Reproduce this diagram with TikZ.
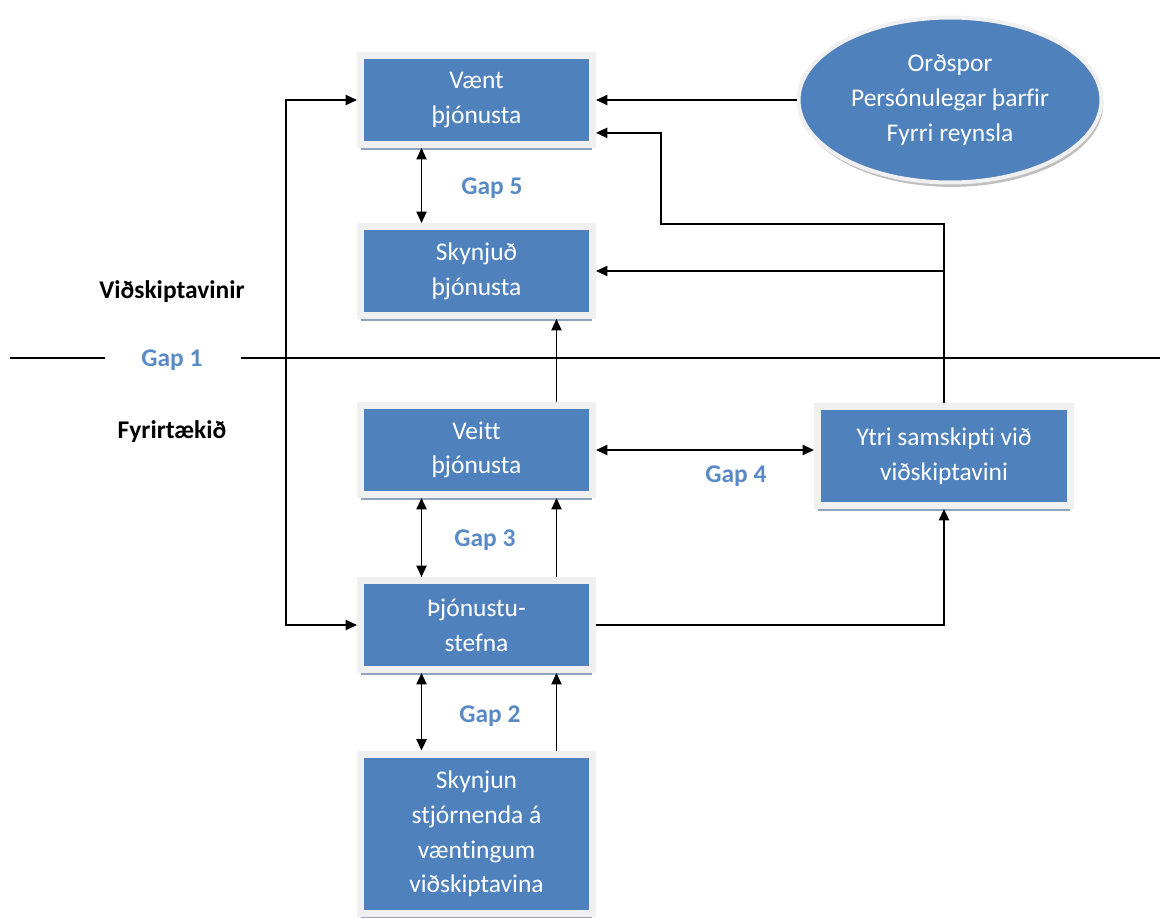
\documentclass[tikz,border=0pt]{standalone}
\usepackage{fontspec}
\setmainfont{Carlito}[Ligatures=NoCommon]
\usepackage{tikz}
\usetikzlibrary{arrows.meta,shapes.geometric,shadows}
\definecolor{boxblue}{HTML}{4F81BD}
\definecolor{framegray}{HTML}{F0F0F0}
\definecolor{shadowblue}{HTML}{8FA3BC}
\definecolor{gapblue}{HTML}{5A8AC6}
\newcommand{\txtsize}{\fontsize{14.5}{19.8}\selectfont}

\begin{document}
\begin{tikzpicture}[x=0.02cm,y=-0.02cm,line width=0.9pt,
  >={Triangle[length=6.5pt,width=5.8pt]},
  box/.style={draw=framegray,line width=0.14cm,fill=boxblue,text=white,
    align=center,minimum width=4.64cm,minimum height=1.78cm,font=\txtsize,
    drop shadow={shadow xshift=0pt,shadow yshift=-3.1pt,fill=shadowblue,opacity=1}},
  oval/.style={ellipse,draw=framegray,line width=0.08cm,fill=boxblue,text=white,
    align=center,minimum width=6.06cm,minimum height=3.3cm,font=\txtsize,
    drop shadow={shadow xshift=1pt,shadow yshift=-2.5pt,fill=black!25,opacity=1}},
  side/.style={font=\txtsize\bfseries},
  gap/.style={font=\txtsize\bfseries,text=gapblue}]
  \useasboundingbox (0,0) rectangle (1160,917);

  % boxes
  \node[box] (vaent) at (476.5,100) {Vænt\\þjónusta};
  \node[box] (skynj) at (476.5,271) {Skynjuð\\þjónusta};
  \node[box] (veitt) at (476.5,450) {Veitt\\þjónusta};
  \node[box] (stefna) at (476.5,625) {Þjónustu-\\stefna};
  \node[box,minimum height=3.2cm] (skynjun) at (476.5,834)
    {Skynjun\\stjórnenda á\\væntingum\\viðskiptavina};
  \node[box,minimum width=5.06cm,minimum height=1.98cm] (ytri) at (944,456)
    {Ytri samskipti við\\viðskiptavini};
  \node[oval] (ell) at (950,100) {Orðspor\\Persónulegar þarfir\\Fyrri reynsla};

  % side labels and gaps
  \node[side] (vidsk) at (172,292) {Viðskiptavinir};
  \node[side] (fyrir) at (172,432) {Fyrirtækið};
  \foreach \n/\x/\y in {1/172/360,2/490/716,3/485/540,4/736/476,5/492/188}
    \node[gap] (gap\n) at (\x,\y) {Gap \n};
  \draw (10,358) -- (105,358) (241,358) -- (1160,358);

  % connectors
  \coordinate (bend) at (661,224);
  \coordinate (lft) at (286,360);
  \draw[->] (ell.west |- vaent.east) -- (vaent.east);
  \draw[->] (ytri.north) |- (bend) |- ([yshift=-18.7pt]vaent.east);
  \draw[->] (ytri.north |- skynj.east) -- (skynj.east);
  \draw[<->] (veitt.east) -- (veitt.east -| ytri.west);
  \draw[->] (stefna.east) -| (ytri.south);
  \draw[<->] (vaent.west) -| (lft) |- (stefna.west);
  \foreach \a/\b in {vaent/skynj,veitt/stefna,stefna/skynjun}
    \draw[<->] ([xshift=-1.1cm]\a.south) -- ([xshift=-1.1cm]\b.north);
  \foreach \a/\b in {skynjun/stefna,stefna/veitt,veitt/skynj}
    \draw[->] ([xshift=1.6cm]\a.north) -- ([xshift=1.6cm]\b.south);
\end{tikzpicture}
\end{document}
